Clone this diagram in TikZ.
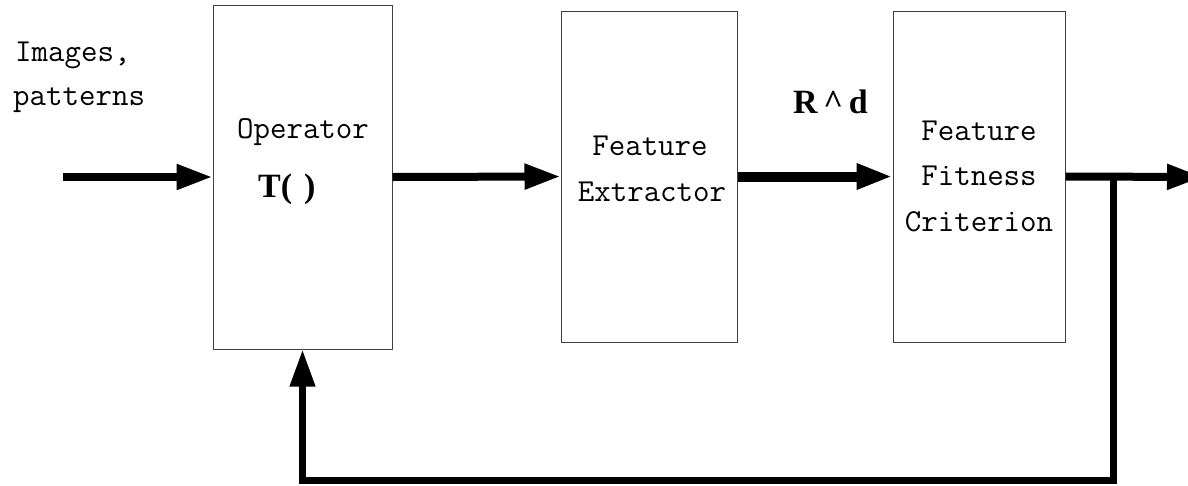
\documentclass[tikz,border=0pt]{standalone}
\usepackage{fontspec}
\newfontfamily\boldserif{Liberation Serif}
\usetikzlibrary{arrows.meta}
\begin{document}
\begin{tikzpicture}[x=1pt,y=-1pt,
  block/.style={draw=black!75,line width=1pt,fill=white,inner sep=0pt},
  mono/.style={font=\fontsize{32}{34}\selectfont\ttfamily,inner sep=0pt,anchor=base},
  bold/.style={font=\fontsize{34}{36}\selectfont\boldserif\bfseries,inner sep=0pt,anchor=base},
  flow/.style={line width=8pt,-{Triangle[length=36pt,width=24pt]}},
  thickflow/.style={line width=10pt,-{Triangle[length=36pt,width=24pt]}},
  back/.style={line width=7pt,line join=miter,-{Triangle[length=37pt,width=24pt]}}]
\useasboundingbox (0,0) rectangle (1188,485);
\clip (0,0) rectangle (1188,485);
\fill[white] (0,0) rectangle (1188,485);
% blocks
\node[block,minimum width=179pt,minimum height=344pt] (op) at (302.5,177) {};
\node[block,minimum width=176pt,minimum height=331pt] (ext) at (649,176.5) {};
\node[block,minimum width=172pt,minimum height=331pt] (fit) at (979,176.5) {};
% texts
\node[mono,anchor=base west] (t1) at (15,61) {Images,};
\node[mono,anchor=base west] (t2) at (13,105) {patterns};
\node[mono] (t3) at (303,138) {Operator};
\node[bold,anchor=base west] (t4) at (258,197) {T(\kern12pt)};
\node[mono] (t5) at (650,155) {Feature};
\node[mono] (t6) at (652,201) {Extractor};
\node[mono] (t7) at (979,140) {Feature};
\node[mono] (t8) at (979,185) {Fitness};
\node[mono] (t9) at (979,231) {Criterion};
\node[bold,anchor=base west] (rd) at (793,113) {R\,\textasciicircum\,d};
% connectors
\coordinate (in) at (63,177);
\coordinate (out) at (1203,177);
\coordinate (j) at (1113,177);
\coordinate (bot) at (1113,480);
\draw[flow] (in) -- (op.west);
\draw[flow] (op.east) -- (ext.west);
\draw[thickflow] (ext.east) -- (fit.west);
\draw[flow] (fit.east) -- (out);
\draw[back] (j) -- (bot) -| (op.south);
\end{tikzpicture}
\end{document}
